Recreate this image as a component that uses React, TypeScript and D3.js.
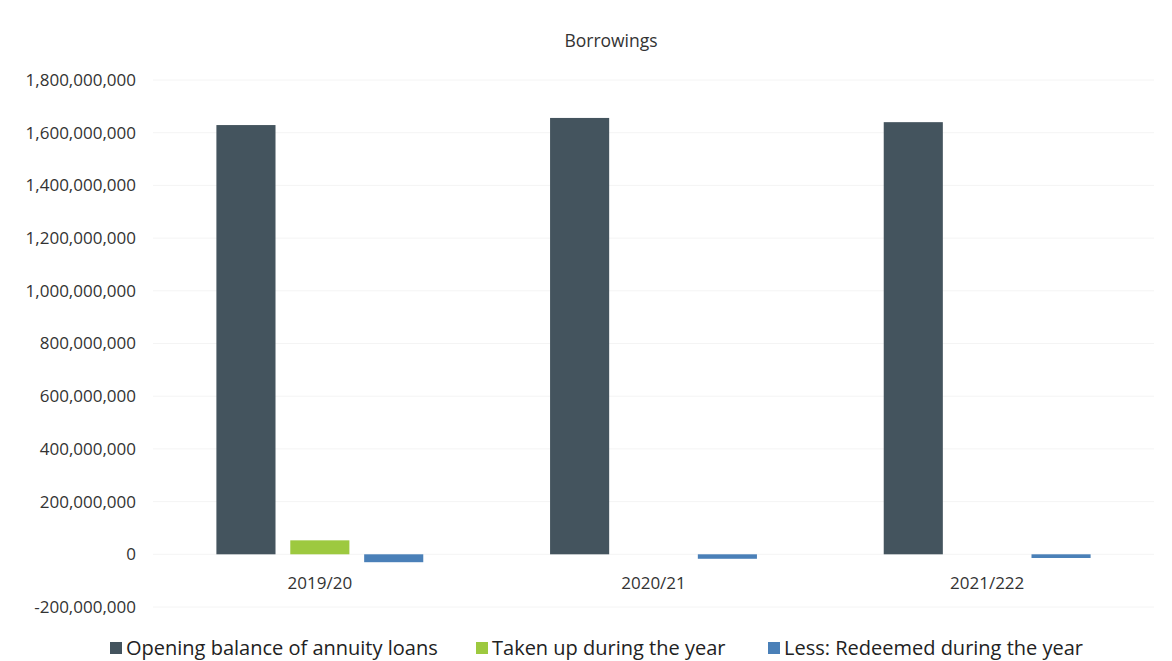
import React from "react";
import * as d3 from "d3";

const categories = ["2019/20", "2020/21", "2021/222"];
const seriesNames = [
  "Opening balance of annuity loans",
  "Taken up during the year",
  "Less: Redeemed during the year",
];
const openingBalance = [1629000000, 1656000000, 1640000000];
const takenUp = [53000000, 0, 0];
const redeemed = [-30000000, -17000000, -14000000];
const yTicks = [-200000000, 0, 200000000, 400000000, 600000000, 800000000, 1000000000, 1200000000, 1400000000, 1600000000, 1800000000];
const colors = ["#44545e", "#9dc93f", "#4a80b8"];

const W = 1172;
const H = 661;
const plot = { left: 153, right: 1154, top: 80, bottom: 607 };

export default function App() {
  const seriesValues = [openingBalance, takenUp, redeemed];
  const y = d3.scaleLinear().domain([-200000000, 1800000000]).range([plot.bottom, plot.top]);
  const x0 = d3
    .scaleBand<string>()
    .domain(categories)
    .range([plot.left, plot.right])
    .paddingInner(0.38)
    .paddingOuter(0.19);
  const x1 = d3
    .scaleBand<string>()
    .domain(seriesNames)
    .range([0, x0.bandwidth()])
    .paddingInner(0.2);
  const fmt = d3
    .formatLocale({ decimal: ".", thousands: ",", grouping: [3], currency: ["", ""], minus: "-" })
    .format(",");
  const font = "'Open Sans', sans-serif";

  const legendX = [110, 476, 768];

  return (
    <svg
      width={W}
      height={H}
      style={{ position: "absolute", left: 0, top: 0, background: "#fff" }}
      fontFamily={font}
    >
      <rect width={W} height={H} fill="#fff" />
      <text x={611} y={47} textAnchor="middle" fontSize={17.5} fill="#333">
        Borrowings
      </text>
      {yTicks.map((t) => (
        <g key={t}>
          <line x1={plot.left} x2={plot.right} y1={y(t)} y2={y(t)} stroke="#f4f4f4" strokeWidth={1} />
          <text x={136} y={y(t)} dy="0.35em" textAnchor="end" fontSize={17} fill="#333">
            {fmt(t)}
          </text>
        </g>
      ))}
      {categories.map((c, ci) => (
        <g key={c}>
          {seriesNames.map((s, si) => {
            const v = seriesValues[si][ci];
            if (v === 0) return null;
            const y0 = y(Math.max(0, v));
            const y1 = y(Math.min(0, v));
            return (
              <rect
                key={s}
                x={(x0(c) as number) + (x1(s) as number)}
                y={y0}
                width={x1.bandwidth()}
                height={y1 - y0}
                fill={colors[si]}
              />
            );
          })}
          <text
            x={(x0(c) as number) + x0.bandwidth() / 2}
            y={589}
            textAnchor="middle"
            fontSize={17}
            fill="#333"
          >
            {c}
          </text>
        </g>
      ))}
      {seriesNames.map((s, si) => (
        <g key={s} transform={`translate(${legendX[si]},655)`}>
          <rect x={0} y={-13} width={12} height={12} fill={colors[si]} />
          <text x={16} y={0} fontSize={20} fill="#222">
            {s}
          </text>
        </g>
      ))}
    </svg>
  );
}
